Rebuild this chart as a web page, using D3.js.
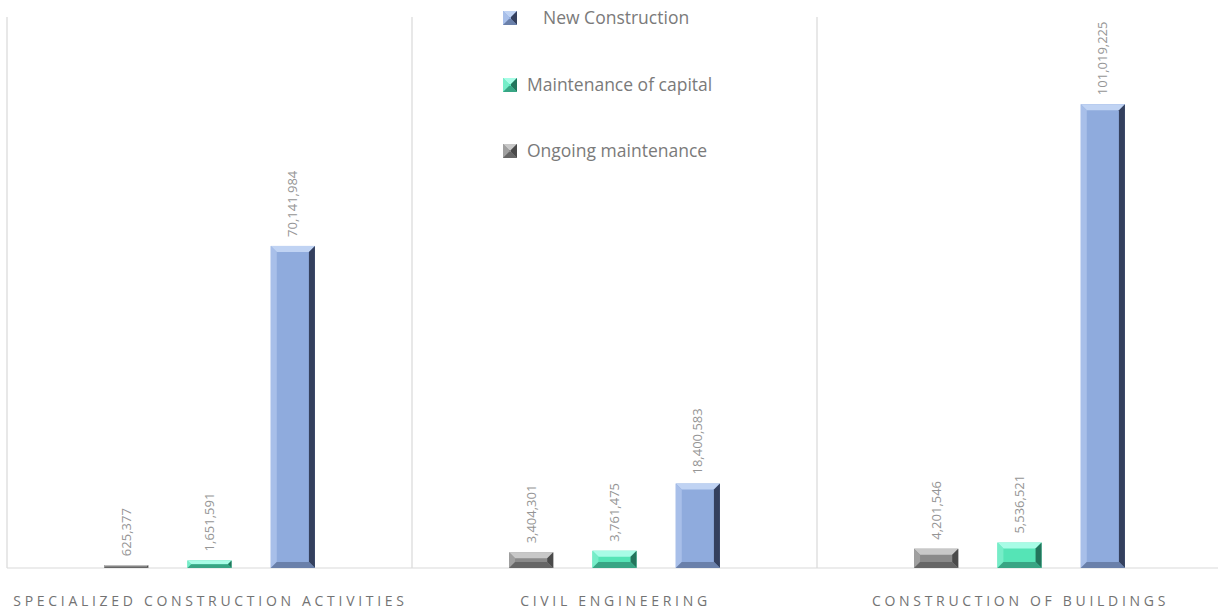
<!DOCTYPE html>
<html>
<head>
<meta charset="utf-8">
<script src="https://cdn.jsdelivr.net/npm/d3@7"></script>
<style>
  html, body { margin: 0; padding: 0; background: #fff; }
  svg { display: block; }
  text { font-family: "Open Sans", "Noto Sans", sans-serif; }
</style>
</head>
<body>
<svg id="chart" width="1218" height="611"></svg>
<script>
const categories = ["SPECIALIZED CONSTRUCTION ACTIVITIES", "CIVIL ENGINEERING", "CONSTRUCTION OF BUILDINGS"];
const seriesNames = ["Ongoing maintenance", "Maintenance of capital", "New Construction"];
const ongoing = [625377, 3404301, 4201546];
const capital = [1651591, 3761475, 5536521];
const newConstruction = [70141984, 18400583, 101019225];
const legendOrder = ["New Construction", "Maintenance of capital", "Ongoing maintenance"];

const seriesValues = { "Ongoing maintenance": ongoing, "Maintenance of capital": capital, "New Construction": newConstruction };
const palette = {
  "Ongoing maintenance": { base: "#8a8a8a", top: "#c8c8c8", left: "#a0a0a0", right: "#4a4a4a", bottom: "#666666" },
  "Maintenance of capital": { base: "#55e4b6", top: "#a8fce6", left: "#76edc8", right: "#23755c", bottom: "#38a584" },
  "New Construction": { base: "#8fabdd", top: "#c0d3f3", left: "#a8bfe9", right: "#34405e", bottom: "#6a80aa" }
};

const svg = d3.select("#chart");
const plotLeft = 7, plotRight = 1222, plotTop = 17, baseY = 568;

const x0 = d3.scaleBand().domain(categories).range([plotLeft, plotRight]).padding(0);
const y = d3.scaleLinear().domain([0, 120000000]).range([baseY, plotTop]);

// gridlines / separators
const seps = [plotLeft, ...categories.map(c => x0(c) + x0.bandwidth())];
svg.append("g").selectAll("line").data(seps).join("line")
  .attr("x1", d => d).attr("x2", d => d)
  .attr("y1", plotTop).attr("y2", baseY)
  .attr("stroke", "#d9d9d9").attr("stroke-width", 1.2);
svg.append("line").attr("x1", plotLeft).attr("x2", plotRight).attr("y1", baseY).attr("y2", baseY)
  .attr("stroke", "#d9d9d9").attr("stroke-width", 1.2);

function bevel(g, x, yTop, w, h, col) {
  const b = Math.min(6, h / 2, w / 2);
  g.append("rect").attr("x", x).attr("y", yTop).attr("width", w).attr("height", h).attr("fill", col.base);
  const x2 = x + w, y2 = yTop + h;
  const poly = (pts, fill) => g.append("polygon").attr("points", pts.map(p => p.join(",")).join(" ")).attr("fill", fill);
  poly([[x, yTop], [x2, yTop], [x2 - b, yTop + b], [x + b, yTop + b]], col.top);
  poly([[x, yTop], [x + b, yTop + b], [x + b, y2 - b], [x, y2]], col.left);
  poly([[x2, yTop], [x2, y2], [x2 - b, y2 - b], [x2 - b, yTop + b]], col.right);
  poly([[x, y2], [x + b, y2 - b], [x2 - b, y2 - b], [x2, y2]], col.bottom);
}

const groups = svg.append("g").selectAll("g").data(categories).join("g");
groups.each(function(cat, ci) {
  const g = d3.select(this);
  const cx = x0(cat) + x0.bandwidth() / 2;
  const x1 = d3.scaleBand().domain(seriesNames).range([cx - 125, cx + 125]).paddingInner(0.47).paddingOuter(0.235);
  seriesNames.forEach(s => {
    const v = seriesValues[s][ci];
    const bx = x1(s), bw = x1.bandwidth();
    const yt = y(v), h = baseY - yt;
    bevel(g, bx, yt, bw, h, palette[s]);
    const lx = bx + bw / 2 + 4.5, ly = yt - 9;
    g.append("text")
      .attr("transform", `translate(${lx},${ly}) rotate(-90)`)
      .attr("text-anchor", "start")
      .attr("font-size", 13)
      .attr("fill", "#959595")
      .text(d3.format(",")(v));
  });
  g.append("text")
    .attr("x", cx + 1).attr("y", 606)
    .attr("text-anchor", "middle")
    .attr("font-size", 14)
    .attr("letter-spacing", "3.7px")
    .attr("fill", "#737373")
    .text(cat);
});

// legend
const legendPos = [{ iy: 11, tx: 543 }, { iy: 78, tx: 527 }, { iy: 144, tx: 527 }];
const lg = svg.append("g");
legendOrder.forEach((s, i) => {
  const p = legendPos[i];
  const g = lg.append("g");
  bevel(g, 503, p.iy, 14, 14, palette[s]);
  g.append("text").attr("x", p.tx).attr("y", p.iy + 13)
    .attr("font-size", 17.5).attr("fill", "#7a7a7a").text(s);
});
</script>
</body>
</html>
